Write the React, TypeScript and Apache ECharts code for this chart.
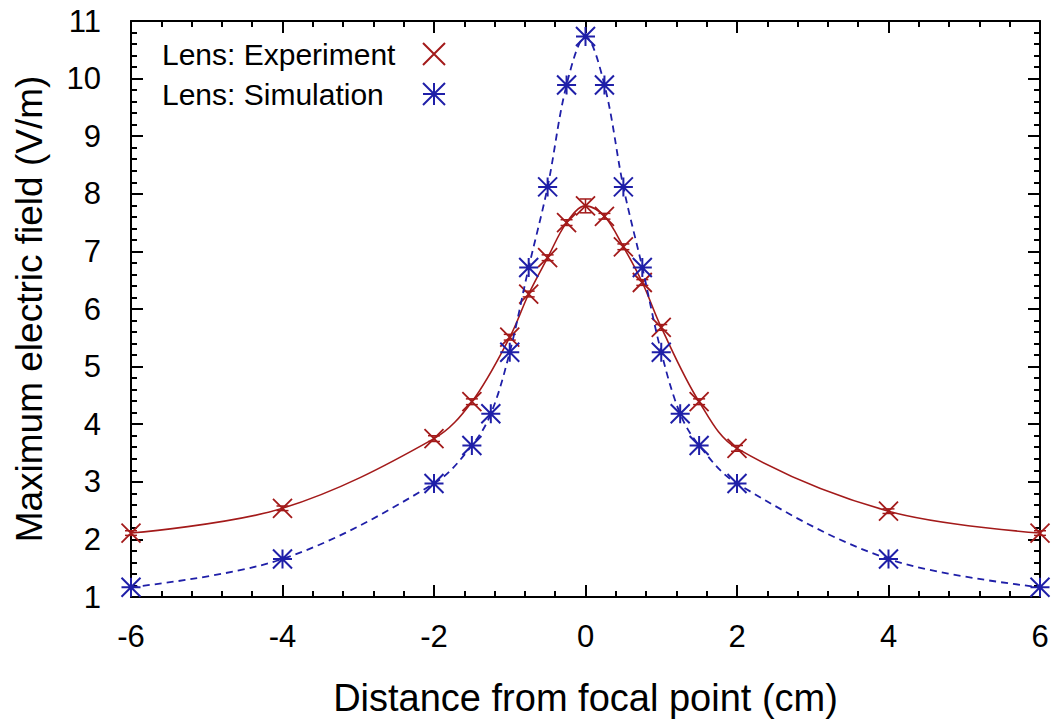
import React, { useEffect, useRef } from "react";
import * as echarts from "echarts";

const expX = [-6, -4, -2, -1.5, -1, -0.75, -0.5, -0.25, 0, 0.25, 0.5, 0.75, 1, 1.5, 2, 4, 6];
const expY = [2.11, 2.54, 3.75, 4.39, 5.51, 6.26, 6.89, 7.5, 7.79, 7.61, 7.08, 6.46, 5.68, 4.39, 3.58, 2.49, 2.11];
const expErr = [0.04, 0.04, 0.05, 0.05, 0.05, 0.05, 0.05, 0.05, 0.12, 0.05, 0.05, 0.05, 0.05, 0.05, 0.05, 0.04, 0.04];

const simX = [-6, -4, -2, -1.5, -1.25, -1, -0.75, -0.5, -0.25, 0, 0.25, 0.5, 0.75, 1, 1.25, 1.5, 2, 4, 6];
const simY = [1.17, 1.66, 2.97, 3.63, 4.18, 5.25, 6.72, 8.12, 9.89, 10.73, 9.89, 8.12, 6.72, 5.25, 4.18, 3.63, 2.97, 1.66, 1.17];

const xTicks = { min: -6, max: 6, interval: 2 };
const yTicks = { min: 1, max: 11, interval: 1 };

const RED = "#a31a1a";
const BLUE = "#1f1fa8";
const FONT = "Liberation Sans";

const CROSS = "path://M0,0L10,10M10,0L0,10";
const STAR = "path://M5,0L5,10M0,5L10,5M0,0L10,10M10,0L0,10";

export default function App() {
  const ref = useRef<HTMLDivElement>(null);
  useEffect(() => {
    if (!ref.current) return;
    const chart = echarts.init(ref.current, null, { renderer: "svg" });
    const expData = expX.map((x, i) => [x, expY[i]]);
    const simData = simX.map((x, i) => [x, simY[i]]);
    const errData = expX.map((x, i) => [x, expY[i] - expErr[i], expY[i] + expErr[i]]);

    const axisCommon = {
      type: "value" as const,
      splitLine: { show: false },
      axisLine: { show: true, onZero: false, lineStyle: { color: "#000", width: 2 } },
      axisTick: { show: true, inside: true, length: 12, lineStyle: { color: "#000", width: 2 } },
      minorTick: { show: true, splitNumber: 5, length: 6, lineStyle: { color: "#000", width: 2 } },
    };

    chart.setOption({
      animation: false,
      backgroundColor: "#fff",
      grid: { left: 131, right: 17, top: 21, bottom: 123 },
      legend: {
        left: 157,
        top: 34,
        orient: "vertical",
        align: "right",
        itemGap: 10,
        itemWidth: 22,
        itemHeight: 22,
        formatter: (name: string) => `{t|${name}}`,
        textStyle: {
          fontFamily: FONT,
          fontSize: 30,
          color: "#000",
          rich: { t: { width: 256, align: "left", fontFamily: FONT, fontSize: 30, lineHeight: 22, color: "#000" } },
        },
        data: [
          { name: "Lens: Experiment", icon: CROSS },
          { name: "Lens: Simulation", icon: STAR },
        ],
      },
      xAxis: [
        {
          ...axisCommon,
          ...xTicks,
          position: "bottom",
          name: "Distance from focal point (cm)",
          nameLocation: "middle",
          nameGap: 82,
          nameTextStyle: { fontFamily: FONT, fontSize: 38, color: "#000" },
          axisLabel: { fontFamily: FONT, fontSize: 31, color: "#000", margin: 24 },
        },
        {
          ...axisCommon,
          ...xTicks,
          position: "top",
          axisLabel: { show: false },
        },
      ],
      yAxis: [
        {
          ...axisCommon,
          ...yTicks,
          position: "left",
          name: "Maximum electric field (V/m)",
          nameLocation: "middle",
          nameGap: 83,
          nameTextStyle: { fontFamily: FONT, fontSize: 37, color: "#000" },
          axisLabel: { fontFamily: FONT, fontSize: 31, color: "#000", margin: 30 },
        },
        {
          ...axisCommon,
          ...yTicks,
          position: "right",
          axisLabel: { show: false },
        },
      ],
      series: [
        {
          name: "Lens: Experiment",
          type: "line",
          data: expData,
          smooth: 0.35,
          symbol: CROSS,
          symbolSize: 19,
          lineStyle: { color: RED, width: 1.6, type: "solid" },
          itemStyle: { color: RED, borderColor: RED, borderWidth: 1.8 },
          z: 3,
        },
        {
          name: "Lens: Experiment err",
          type: "custom",
          data: errData,
          renderItem: (params: any, api: any) => {
            const x = api.value(0);
            const lo = api.coord([x, api.value(1)]);
            const hi = api.coord([x, api.value(2)]);
            const w = 6;
            const style = { stroke: RED, lineWidth: 1.5, fill: "none" };
            return {
              type: "group",
              children: [
                { type: "line", shape: { x1: lo[0], y1: lo[1], x2: hi[0], y2: hi[1] }, style },
                { type: "line", shape: { x1: lo[0] - w, y1: lo[1], x2: lo[0] + w, y2: lo[1] }, style },
                { type: "line", shape: { x1: hi[0] - w, y1: hi[1], x2: hi[0] + w, y2: hi[1] }, style },
              ],
            };
          },
          z: 3,
        },
        {
          name: "Lens: Simulation",
          type: "line",
          data: simData,
          smooth: 0.35,
          symbol: STAR,
          symbolSize: 19,
          lineStyle: { color: BLUE, width: 1.8, type: [7, 5] },
          itemStyle: { color: BLUE, borderColor: BLUE, borderWidth: 2 },
          z: 4,
        },
      ],
    });
    return () => chart.dispose();
  }, []);
  return (
    <div
      ref={ref}
      style={{ position: "absolute", left: 0, top: 0, width: 1057, height: 722, background: "#fff" }}
    />
  );
}
